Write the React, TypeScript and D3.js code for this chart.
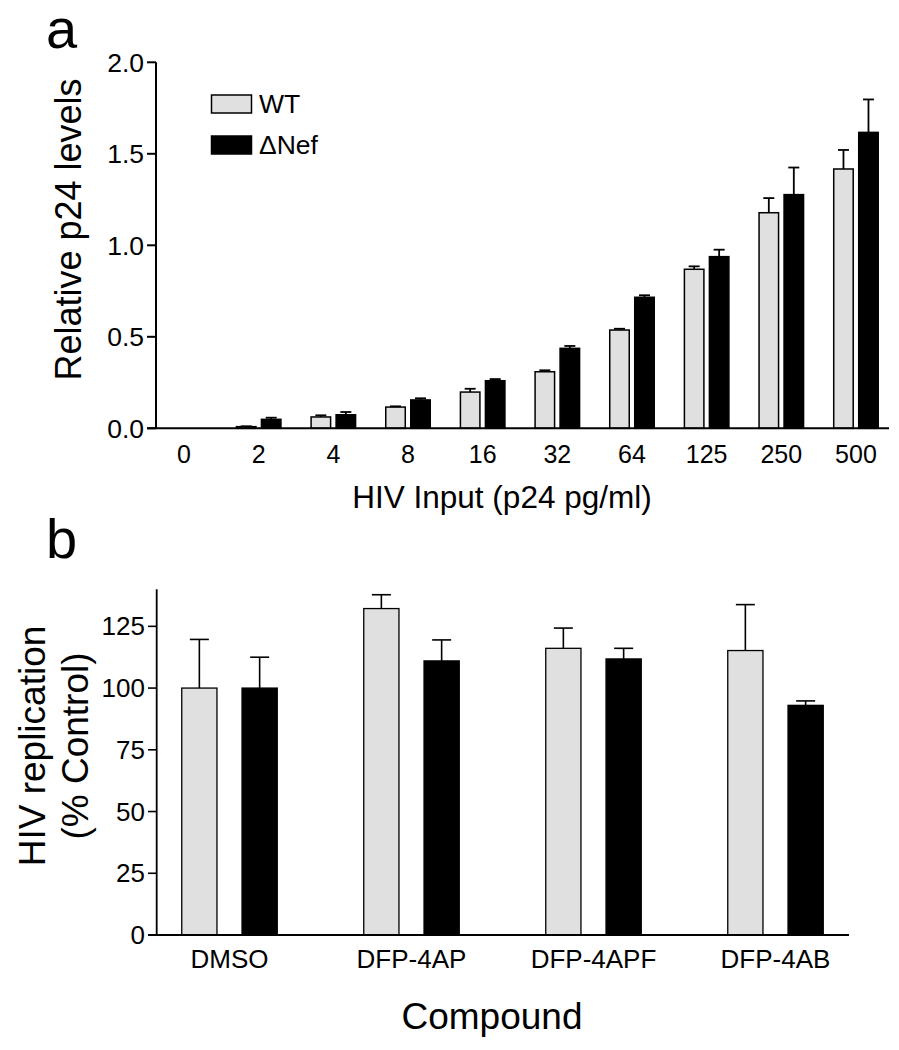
import React from "react";
import * as d3 from "d3";

const FONT = "Liberation Sans";

// Panel a data
const inputCategories = ["0", "2", "4", "8", "16", "32", "64", "125", "250", "500"];
const seriesNames = ["WT", "\u0394Nef"];
const wtLevels = [0, 0.009, 0.062, 0.116, 0.198, 0.309, 0.537, 0.869, 1.178, 1.417];
const wtLevelErr = [0, 0.002, 0.009, 0.004, 0.018, 0.008, 0.007, 0.016, 0.08, 0.104];
const nefLevels = [0, 0.049, 0.074, 0.155, 0.26, 0.437, 0.716, 0.938, 1.277, 1.617];
const nefLevelErr = [0, 0.009, 0.015, 0.009, 0.009, 0.013, 0.011, 0.038, 0.148, 0.18];
const aTicks = [0, 0.5, 1.0, 1.5, 2.0];

// Panel b data
const compounds = ["DMSO", "DFP-4AP", "DFP-4APF", "DFP-4AB"];
const wtRepl = [100, 132.2, 116.1, 115.2];
const wtReplErr = [19.7, 5.6, 8.2, 18.6];
const nefRepl = [100, 111.0, 111.8, 93.0];
const nefReplErr = [12.5, 8.5, 4.3, 1.8];
const bTicks = [0, 25, 50, 75, 100, 125];

const fills = ["#e0e0e0", "#000000"];

export default function App() {
  // ---------- Panel a scales ----------
  const ax = d3.scaleBand<string>().domain(inputCategories).range([146.7, 893.3]).padding(0);
  const axInner = d3.scaleBand<string>().domain(seriesNames).range([-23, 23]).paddingInner(0.16).paddingOuter(0);
  const ay = d3.scaleLinear().domain([0, 2]).range([428.3, 62.3]);

  // ---------- Panel b scales ----------
  const bx = d3.scaleBand<string>().domain(compounds).range([138.5, 866.5]).padding(0);
  const bxInner = d3.scaleBand<string>().domain(seriesNames).range([-48.5, 48.5]).paddingInner(0.391).paddingOuter(0);
  const by = d3.scaleLinear().domain([0, 140]).range([935, 589.3]);

  const aSeries = [
    { name: seriesNames[0], vals: wtLevels, errs: wtLevelErr },
    { name: seriesNames[1], vals: nefLevels, errs: nefLevelErr },
  ];
  const bSeries = [
    { name: seriesNames[0], vals: wtRepl, errs: wtReplErr },
    { name: seriesNames[1], vals: nefRepl, errs: nefReplErr },
  ];

  const aBars: React.ReactNode[] = [];
  aSeries.forEach((s, si) => {
    inputCategories.forEach((c, i) => {
      const v = s.vals[i];
      if (v <= 0) return;
      const cx = (ax(c) as number) + ax.bandwidth() / 2;
      const x0 = cx + (axInner(s.name) as number);
      const w = axInner.bandwidth();
      const yTop = ay(v);
      const yErr = ay(v + s.errs[i]);
      const mid = x0 + w / 2;
      aBars.push(
        <g key={`a-${si}-${i}`}>
          <line x1={mid} x2={mid} y1={yTop} y2={yErr} stroke="#000" strokeWidth={1.8} />
          <line x1={mid - 5.5} x2={mid + 5.5} y1={yErr} y2={yErr} stroke="#000" strokeWidth={1.8} />
          <rect x={x0 + 0.75} y={yTop} width={w - 1.5} height={ay(0) - yTop} fill={fills[si]} stroke="#000" strokeWidth={1.5} />
        </g>
      );
    });
  });

  const bBars: React.ReactNode[] = [];
  bSeries.forEach((s, si) => {
    compounds.forEach((c, i) => {
      const v = s.vals[i];
      const cx = (bx(c) as number) + bx.bandwidth() / 2;
      const x0 = cx + (bxInner(s.name) as number);
      const w = bxInner.bandwidth();
      const yTop = by(v);
      const yErr = by(v + s.errs[i]);
      const mid = x0 + w / 2;
      bBars.push(
        <g key={`b-${si}-${i}`}>
          <line x1={mid} x2={mid} y1={yTop} y2={yErr} stroke="#000" strokeWidth={1.6} />
          <line x1={mid - 9.5} x2={mid + 9.5} y1={yErr} y2={yErr} stroke="#000" strokeWidth={1.6} />
          <rect x={x0 + 0.75} y={yTop} width={w - 1.5} height={by(0) - yTop} fill={fills[si]} stroke="#000" strokeWidth={1.3} />
        </g>
      );
    });
  });

  return (
    <svg
      width={899}
      height={1050}
      viewBox="0 0 899 1050"
      style={{ position: "absolute", left: 0, top: 0, background: "#fff", fontFamily: FONT }}
      fontFamily={FONT}
    >
      <rect x={0} y={0} width={899} height={1050} fill="#fff" />

      {/* ================= Panel a ================= */}
      <text x={46} y={48} fontSize={56}>a</text>

      {/* y axis */}
      <line x1={156} x2={156} y1={ay(2)} y2={ay(0)} stroke="#000" strokeWidth={2} />
      {aTicks.map((t) => (
        <g key={`at-${t}`}>
          <line x1={147} x2={156} y1={ay(t)} y2={ay(t)} stroke="#000" strokeWidth={2} />
          <text x={144} y={ay(t)} dy="0.35em" fontSize={26.5} textAnchor="end">{t.toFixed(1)}</text>
        </g>
      ))}
      <text
        transform={`translate(81, 229.5) rotate(-90)`}
        fontSize={36}
        textAnchor="middle"
      >
        Relative p24 levels
      </text>

      {aBars}

      {/* x axis */}
      <line x1={147} x2={889} y1={ay(0)} y2={ay(0)} stroke="#000" strokeWidth={2} />
      {inputCategories.map((c) => (
        <text key={`axl-${c}`} x={(ax(c) as number) + ax.bandwidth() / 2} y={463} fontSize={25} textAnchor="middle">{c}</text>
      ))}
      <text x={502} y={508} fontSize={31.5} textAnchor="middle">HIV Input (p24 pg/ml)</text>

      {/* legend */}
      {seriesNames.map((n, i) => (
        <g key={`leg-${n}`}>
          <rect x={211.5} y={95 + i * 41} width={40} height={18} fill={fills[i]} stroke="#000" strokeWidth={1.5} />
          <text x={259} y={113 + i * 41} fontSize={26.5}>{n}</text>
        </g>
      ))}

      {/* ================= Panel b ================= */}
      <text x={46} y={558} fontSize={56}>b</text>

      <line x1={156.7} x2={156.7} y1={589.3} y2={by(0)} stroke="#000" strokeWidth={1.8} />
      {bTicks.map((t) => (
        <g key={`bt-${t}`}>
          <line x1={148} x2={156.7} y1={by(t)} y2={by(t)} stroke="#000" strokeWidth={1.6} />
          <text x={145} y={by(t)} dy="0.35em" fontSize={26} textAnchor="end">{t}</text>
        </g>
      ))}
      <text transform={`translate(45, 746) rotate(-90)`} fontSize={37} textAnchor="middle">HIV replication</text>
      <text transform={`translate(88, 746) rotate(-90)`} fontSize={37} textAnchor="middle">(% Control)</text>

      {bBars}

      <line x1={148} x2={849} y1={by(0)} y2={by(0)} stroke="#000" strokeWidth={1.8} />
      {compounds.map((c) => (
        <text key={`bxl-${c}`} x={(bx(c) as number) + bx.bandwidth() / 2} y={968} fontSize={26} textAnchor="middle">{c}</text>
      ))}
      <text x={492} y={1029} fontSize={37} textAnchor="middle">Compound</text>
    </svg>
  );
}
